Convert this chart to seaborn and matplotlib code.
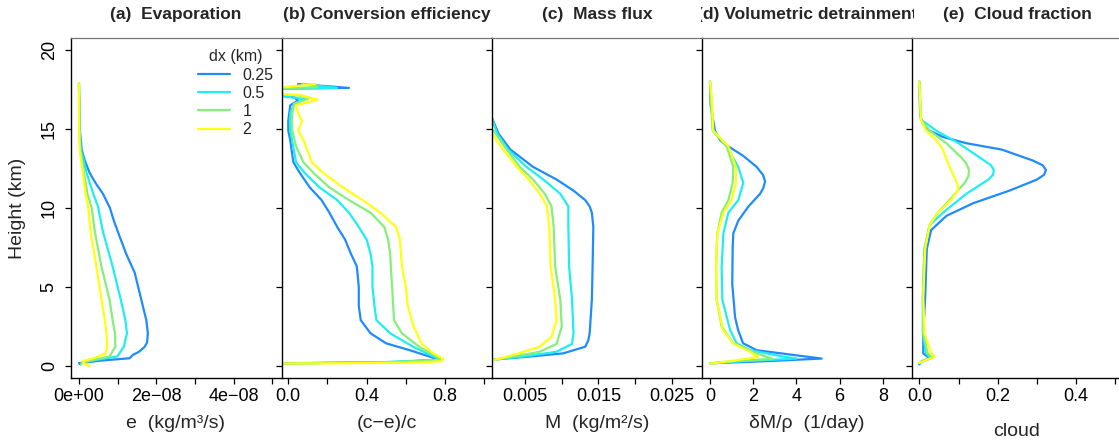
import numpy as np
import pandas as pd
import matplotlib
matplotlib.use("Agg")
import matplotlib.pyplot as plt
from matplotlib.patches import Rectangle
import seaborn as sns

# ----------------------
# Data
# ----------------------

DX = ["0.25", "0.5", "1", "2"]
COLORS = ["#1E8CFF", "#1EEEF0", "#86EE7A", "#FFFF10"]

# (a) evaporation, values in 1e-8 kg/m3/s
EVAP_SCALE = 1e-8
EVAP_H_025 = [17.9, 15.0, 13.7, 13.0, 12.2, 11.5, 10.9, 10.0, 9.2, 8.2, 7.1, 5.9, 4.2, 2.9, 2.07, 1.5, 1.22,
              0.9, 0.7, 0.49, 0.35, 0.18, 0.1]
EVAP_025 = [0.0, 0.02, 0.07, 0.15, 0.28, 0.45, 0.62, 0.8, 0.9, 1.05, 1.22, 1.44, 1.61, 1.74, 1.78, 1.76, 1.70,
            1.55, 1.39, 1.31, 0.6, 0.0, 0.05]
EVAP_H_05 = [17.9, 15.0, 13.7, 12.2, 10.9, 10.1, 8.5, 6.3, 4.2, 2.9, 2.07, 1.22, 0.6, 0.45, 0.25, 0.12]
EVAP_05 = [0.0, 0.01, 0.05, 0.2, 0.37, 0.49, 0.62, 0.87, 1.08, 1.2, 1.24, 1.16, 0.99, 0.6, 0.1, 0.05]
EVAP_H_1 = [17.9, 15.0, 13.7, 12.2, 10.9, 10.0, 8.5, 6.3, 4.2, 2.9, 2.07, 1.22, 0.6, 0.4, 0.2, 0.12]
EVAP_1 = [0.0, 0.01, 0.03, 0.13, 0.22, 0.33, 0.41, 0.58, 0.79, 0.87, 0.93, 0.94, 0.79, 0.4, 0.08, 0.05]
EVAP_H_2 = [17.9, 15.0, 13.7, 12.2, 10.9, 10.0, 8.5, 6.3, 4.2, 2.9, 2.07, 1.22, 0.8, 0.55, 0.3, 0.1, 0.0]
EVAP_2 = [0.0, 0.005, 0.02, 0.1, 0.17, 0.24, 0.3, 0.45, 0.58, 0.67, 0.71, 0.73, 0.69, 0.45, 0.1, 0.15, 0.28]

# (b) conversion efficiency (c-e)/c
CONV_H_025 = [17.85, 17.6, 17.55, 17.2, 17.0, 16.8, 16.5, 16.0, 15.5, 14.9, 14.3, 12.9, 12.2, 11.3, 10.5, 9.7,
              8.8, 8.0, 7.1, 6.3, 5.0, 3.8, 2.9, 2.07, 1.43, 1.0, 0.6, 0.4, 0.25, 0.15]
CONV_025 = [0.05, 0.31, -0.1, -0.1, 0.03, 0.05, 0.01, 0.005, 0.0, 0.0, 0.01, 0.026, 0.06, 0.11, 0.17, 0.21,
            0.25, 0.29, 0.32, 0.35, 0.36, 0.36, 0.37, 0.42, 0.50, 0.62, 0.72, 0.77, 0.55, -0.1]
CONV_H_05 = [17.85, 17.6, 17.55, 17.2, 16.9, 16.6, 16.0, 15.5, 14.9, 12.9, 12.2, 11.3, 10.5, 9.7, 8.8, 8.0,
             7.1, 6.3, 5.0, 3.8, 2.9, 2.07, 1.2, 0.6, 0.4, 0.25, 0.15]
CONV_05 = [0.07, 0.25, -0.1, -0.1, 0.08, 0.03, 0.01, 0.008, 0.01, 0.04, 0.085, 0.16, 0.25, 0.31, 0.36, 0.40,
           0.42, 0.43, 0.43, 0.44, 0.45, 0.52, 0.64, 0.74, 0.78, 0.5, -0.1]
CONV_H_1 = [17.85, 17.65, 17.55, 17.25, 17.1, 16.9, 16.6, 16.0, 15.5, 14.9, 13.9, 12.9, 12.2, 11.3, 10.5, 9.7,
            8.8, 8.0, 7.1, 5.0, 2.9, 2.07, 1.2, 0.6, 0.4, 0.25, 0.15]
CONV_1 = [0.08, 0.15, -0.1, -0.1, 0.07, 0.1, 0.03, 0.02, 0.018, 0.02, 0.04, 0.077, 0.13, 0.21, 0.31, 0.42,
          0.49, 0.51, 0.52, 0.53, 0.54, 0.58, 0.67, 0.76, 0.79, 0.55, -0.1]
CONV_H_2 = [17.85, 17.55, 17.25, 17.15, 16.85, 16.5, 16.0, 15.5, 14.9, 14.3, 12.9, 12.2, 11.3, 10.5, 9.7, 8.8,
            8.0, 6.3, 5.0, 3.8, 2.5, 1.43, 0.8, 0.45, 0.3, 0.2, 0.15]
CONV_2 = [0.14, -0.1, -0.1, 0.06, 0.15, 0.04, 0.05, 0.07, 0.05, 0.077, 0.12, 0.18, 0.28, 0.38, 0.47, 0.55,
          0.57, 0.58, 0.60, 0.61, 0.64, 0.68, 0.74, 0.79, 0.78, 0.62, -0.1]

# (c) mass flux
MASS_H_025 = [15.7, 14.7, 13.7, 12.6, 11.8, 11.1, 10.5, 10.1, 9.7, 8.8, 6.3, 4.2, 2.07, 1.6, 1.22, 0.8, 0.6, 0.4]
MASS_025 = [0.0005, 0.0014, 0.003, 0.0061, 0.0093, 0.0116, 0.0132, 0.0138, 0.0141, 0.0143, 0.0142, 0.0141,
            0.0138, 0.0136, 0.0132, 0.0102, 0.0057, 0.0005]
MASS_H_05 = [15.7, 14.7, 13.7, 12.6, 11.8, 10.9, 10.1, 8.8, 6.3, 4.2, 2.07, 1.4, 0.9, 0.6, 0.4]
MASS_05 = [0.0005, 0.0012, 0.0027, 0.0052, 0.0075, 0.0098, 0.0109, 0.0109, 0.011, 0.0114, 0.0116, 0.0114,
           0.0093, 0.0048, 0.0005]
MASS_H_1 = [14.9, 13.7, 12.6, 11.8, 10.9, 10.1, 8.8, 6.3, 4.2, 2.5, 1.4, 0.9, 0.6, 0.35]
MASS_1 = [0.0007, 0.0025, 0.0043, 0.0061, 0.0077, 0.0086, 0.0089, 0.0091, 0.0098, 0.0100, 0.0093, 0.0070,
          0.0034, 0.0005]
MASS_H_2 = [14.7, 13.7, 12.6, 11.8, 10.9, 10.1, 8.8, 6.3, 4.2, 2.9, 1.85, 1.22, 0.7, 0.35]
MASS_2 = [0.0005, 0.0020, 0.0039, 0.0055, 0.0070, 0.0080, 0.0083, 0.0085, 0.0091, 0.0093, 0.0086, 0.0070,
          0.0034, 0.0005]

# (d) volumetric detrainment (1/day)
DETR_H_025 = [18.0, 16.5, 14.9, 14.3, 13.9, 13.3, 12.6, 12.1, 11.7, 11.3, 10.9, 10.1, 9.2, 8.4, 7.5, 5.2,
              3.1, 2.28, 1.44, 1.0, 0.7, 0.47, 0.3, 0.17]
DETR_025 = [0.0, 0.03, 0.23, 0.46, 0.85, 1.54, 2.16, 2.45, 2.55, 2.48, 2.32, 1.78, 1.31, 1.08, 1.05, 1.03,
            1.16, 1.3, 1.53, 2.16, 3.85, 5.17, 2.5, 0.0]
DETR_H_05 = [18.0, 14.9, 13.9, 12.6, 11.6, 10.5, 9.7, 8.4, 6.3, 4.2, 2.28, 1.44, 1.0, 0.6, 0.47, 0.3, 0.17]
DETR_05 = [0.0, 0.15, 0.77, 1.31, 1.54, 1.31, 0.85, 0.62, 0.54, 0.57, 0.93, 1.23, 1.85, 3.38, 4.0, 1.5, 0.0]
DETR_H_1 = [18.0, 14.9, 13.9, 12.6, 11.6, 10.5, 9.7, 8.4, 6.3, 4.2, 2.5, 1.43, 0.8, 0.45, 0.3, 0.17]
DETR_1 = [0.0, 0.12, 0.77, 1.08, 1.05, 0.85, 0.54, 0.34, 0.28, 0.31, 0.54, 1.08, 2.16, 2.9, 1.0, 0.0]
DETR_H_2 = [18.0, 17.0, 14.9, 13.9, 12.6, 11.6, 10.5, 9.7, 8.4, 6.3, 4.2, 2.28, 1.44, 0.9, 0.57, 0.3, 0.15]
DETR_2 = [0.0, 0.08, 0.15, 0.85, 1.2, 1.2, 1.0, 0.62, 0.34, 0.28, 0.31, 0.6, 1.08, 1.85, 2.24, 0.9, 0.0]

# (e) cloud fraction
CLD_H_025 = [18.0, 15.9, 15.3, 14.9, 14.5, 14.1, 13.7, 13.0, 12.7, 12.4, 12.1, 11.8, 11.1, 10.3, 9.5, 8.6,
             7.4, 4.4, 2.1, 0.8, 0.49, 0.28, 0.1]
CLD_025 = [0.0, 0.002, 0.009, 0.026, 0.06, 0.12, 0.21, 0.29, 0.315, 0.323, 0.318, 0.30, 0.23, 0.137, 0.069,
           0.03, 0.019, 0.015, 0.01, 0.01, 0.026, 0.005, 0.0]
CLD_H_05 = [18.0, 15.6, 14.9, 14.1, 13.2, 12.7, 12.4, 12.1, 11.8, 10.9, 9.7, 8.9, 7.4, 4.4, 2.1, 0.8, 0.49, 0.2]
CLD_05 = [0.0, 0.004, 0.043, 0.10, 0.154, 0.183, 0.19, 0.188, 0.176, 0.12, 0.06, 0.026, 0.013, 0.009, 0.009,
          0.017, 0.03, 0.0]
CLD_H_1 = [18.0, 15.6, 14.9, 14.1, 13.2, 12.8, 12.4, 12.0, 11.6, 10.5, 9.7, 8.9, 7.4, 4.4, 2.1, 0.8, 0.55, 0.2]
CLD_1 = [0.0, 0.004, 0.026, 0.069, 0.107, 0.12, 0.127, 0.125, 0.116, 0.077, 0.047, 0.026, 0.013, 0.009, 0.01,
         0.021, 0.034, 0.0]
CLD_H_2 = [18.0, 15.6, 14.9, 14.3, 13.7, 12.6, 11.7, 11.2, 10.5, 9.7, 8.9, 7.4, 4.4, 2.1, 0.8, 0.6, 0.2]
CLD_2 = [0.0, 0.004, 0.017, 0.043, 0.06, 0.077, 0.094, 0.10, 0.081, 0.047, 0.026, 0.015, 0.01, 0.013, 0.03,
         0.039, 0.0]

TITLES = ["(a)  Evaporation", "(b) Conversion efficiency", "(c)  Mass flux",
          "(d) Volumetric detrainment", "(e)  Cloud fraction"]
XLABELS = ["e  (kg/m\u00b3/s)", "(c\u2212e)/c", "M  (kg/m\u00b2/s)", "\u03b4M/\u03c1  (1/day)", "cloud"]

# ----------------------
# Helpers
# ----------------------

def long_frame(heights, values, scale=1.0):
    rows = []
    for dx, h, v in zip(DX, heights, values):
        for hh, vv in zip(h, v):
            rows.append({"dx": dx, "height": hh, "value": vv * scale})
    return pd.DataFrame(rows)


panels = [
    long_frame([EVAP_H_025, EVAP_H_05, EVAP_H_1, EVAP_H_2], [EVAP_025, EVAP_05, EVAP_1, EVAP_2], EVAP_SCALE),
    long_frame([CONV_H_025, CONV_H_05, CONV_H_1, CONV_H_2], [CONV_025, CONV_05, CONV_1, CONV_2]),
    long_frame([MASS_H_025, MASS_H_05, MASS_H_1, MASS_H_2], [MASS_025, MASS_05, MASS_1, MASS_2]),
    long_frame([DETR_H_025, DETR_H_05, DETR_H_1, DETR_H_2], [DETR_025, DETR_05, DETR_1, DETR_2]),
    long_frame([CLD_H_025, CLD_H_05, CLD_H_1, CLD_H_2], [CLD_025, CLD_05, CLD_1, CLD_2]),
]

xlims = [(-0.206e-8, 5.22e-8), (-0.032, 1.04), (0.0005, 0.0291), (-0.37, 9.35), (-0.0187, 0.517)]
xticks = [np.arange(6) * 1e-8, np.arange(6) * 0.2, np.arange(1, 6) * 0.005, np.arange(5) * 2.0, np.arange(6) * 0.1]
xticklabels = [
    ["0e+00", "", "2e\u221208", "", "4e\u221208", ""],
    ["0.0", "", "0.4", "", "0.8", ""],
    ["0.005", "", "0.015", "", "0.025"],
    ["0", "2", "4", "6", "8"],
    ["0.0", "", "0.2", "", "0.4", ""],
]

# ----------------------
# Figure
# ----------------------

sns.set_theme(style="ticks")
plt.rcParams["font.family"] = ["Liberation Sans", "DejaVu Sans"]

W, H = 1119, 447
fig = plt.figure(figsize=(W / 100, H / 100), dpi=100)

left_px = [71, 282, 492, 702, 912]
width_px = 210
top_px, bottom_px = 38, 378

for i, df in enumerate(panels):
    ax = fig.add_axes([left_px[i] / W, 1 - bottom_px / H, width_px / W, (bottom_px - top_px) / H])
    sns.lineplot(data=df, x="value", y="height", hue="dx", hue_order=DX, palette=COLORS,
                 sort=False, estimator=None, linewidth=1.6, ax=ax, legend=(i == 0))
    ax.set_xlim(*xlims[i])
    ax.set_ylim(-0.76, 20.76)
    ax.set_xticks(xticks[i])
    ax.set_xticklabels(xticklabels[i])
    ax.set_yticks([0, 5, 10, 15, 20])
    if i == 0:
        ax.set_yticklabels(["0", "5", "10", "15", "20"], rotation=90, va="center")
    else:
        ax.set_yticklabels([])
    ax.set_xlabel("")
    ax.set_ylabel("")
    ax.tick_params(axis="both", direction="out", length=4.5, width=0.9, colors="black",
                   labelsize=13, pad=3)
    ax.tick_params(axis="y", pad=5)
    for side in ["left", "bottom"]:
        ax.spines[side].set_color("black")
        ax.spines[side].set_linewidth(1.0)
    ax.spines["top"].set_color("#777777")
    ax.spines["top"].set_linewidth(0.9)
    ax.spines["right"].set_visible(False)

    cx = (left_px[i] + width_px / 2) / W
    t = fig.text(cx, 1 - 14 / H, TITLES[i], ha="center", va="center", fontsize=12.5, fontweight="bold")
    clip_x0 = 0 if i == 0 else left_px[i] - 1
    t.set_clip_path(Rectangle((clip_x0 / W, 0), (left_px[i] + width_px + 2 - clip_x0) / W, 1,
                              transform=fig.transFigure))
    t.set_clip_on(True)

    ly = 432 if i == 4 else 423
    fig.text(cx, 1 - ly / H, XLABELS[i], ha="center", va="center", fontsize=14)

    if i == 0:
        handles, labels = ax.get_legend_handles_labels()
        for hnd in handles:
            hnd.set_linewidth(1.6)
        leg = ax.legend(handles, labels, title="dx (km)", frameon=False, fontsize=11.5,
                        title_fontsize=11.5, loc="upper right", bbox_to_anchor=(0.995, 0.985),
                        handlelength=2.0, handletextpad=0.8, labelspacing=0.2, borderaxespad=0)

fig.text(18 / W, 1 - 208 / H, "Height (km)", rotation=90, ha="center", va="center", fontsize=14)

fig.savefig("out.png", dpi=100)
